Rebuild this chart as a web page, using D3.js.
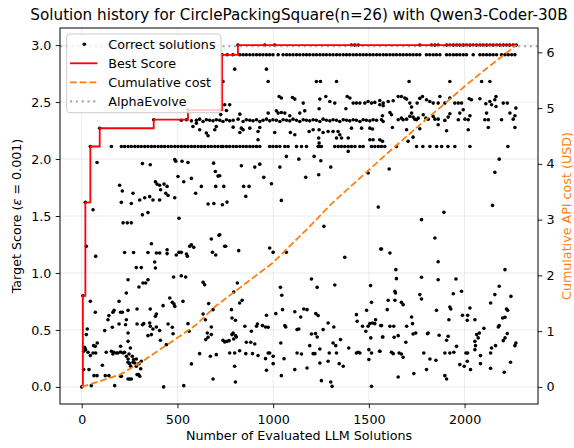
<!DOCTYPE html>
<html>
<head>
<meta charset="utf-8">
<script src="https://cdn.jsdelivr.net/npm/d3@7"></script>
<style>
  body { margin: 0; background: #fff; }
  text { font-family: "DejaVu Sans", sans-serif; }
</style>
</head>
<body>
<svg width="574" height="448"></svg>
<script>
const width = 574;
const height = 448;
const margin = {left: 60, right: 36, top: 28, bottom: 44};

const titleText = "Solution history for CirclePackingSquare(n=26) with Qwen3-Coder-30B";
const xTicks = [0, 500, 1000, 1500, 2000];
const yTicks = [0, 0.5, 1, 1.5, 2, 2.5, 3];
const costTicks = [0, 1, 2, 3, 4, 5, 6];
const legendLabels = ["Correct solutions", "Best Score", "Cumulative cost", "AlphaEvolve"];

const alphaEvolveScore = 2.99;

// best score so far (step after)
const bestRuns = [0, 6, 19, 45, 94, 376, 555, 733, 816, 2275];
const bestScores = [0, 0.8, 1.62, 2.11, 2.27, 2.345, 2.43, 2.915, 3.0, 3.0];

// cumulative API cost
const costRuns = [0, 100, 200, 300, 400, 500, 600, 700, 800, 900, 1000, 1100, 1200, 1300, 1400, 1500, 1600, 1700, 1800, 1900, 2000, 2100, 2200, 2270];
const costUsd = [0, 0.11, 0.22, 0.42, 0.65, 0.88, 1.12, 1.45, 1.71, 1.97, 2.23, 2.57, 2.91, 3.27, 3.58, 3.89, 4.2, 4.5, 4.8, 5.09, 5.39, 5.67, 5.94, 6.13];

// solutions that hit the flat score levels
const runsAt300 = [816, 956, 1008, 1409, 1426, 1444, 1766, 1827, 1845, 1862, 1906, 1923, 1941, 1958, 1975, 1993, 2010, 2028, 2045, 2062, 2080, 2097, 2115, 2132, 2149, 2167, 2184, 2202, 2219, 2236, 2254, 2270];
const runsAt291 = [733, 760, 790, 826, 843, 860, 878, 895, 913, 930, 947, 965, 982, 999, 1026, 1052, 1070, 1087, 1104, 1122, 1139, 1157, 1174, 1191, 1209, 1226, 1244, 1261, 1278, 1296, 1313, 1331, 1348, 1366, 1383, 1400, 1418, 1435, 1453, 1470, 1487, 1505, 1522, 1540, 1557, 1575, 1592, 1610, 1627, 1644, 1662, 1679, 1697, 1714, 1731, 1749, 1766, 1801, 1818, 1836, 1853, 1871, 1906, 1923, 1941, 1958, 1975, 1993, 2010, 2045, 2080, 2097, 2115, 2132, 2149, 2167, 2193, 2211, 2228, 2246, 2263];
const runsAt211 = [45, 155, 207, 224, 242, 259, 277, 294, 311, 329, 346, 364, 381, 399, 416, 433, 451, 468, 486, 503, 521, 538, 555, 573, 590, 608, 625, 642, 660, 677, 695, 712, 730, 738, 756, 773, 791, 808, 826, 843, 860, 878, 895, 913, 930, 982, 999, 1017, 1035, 1061, 1078, 1122, 1148, 1174, 1235, 1244, 1252, 1322, 1340, 1357, 1374, 1392, 1409, 1427, 1453, 1470, 1514, 1531, 1549, 1566, 1583, 1644, 1749, 1782, 1819, 1854, 1880, 1913, 1949, 2028, 2226];

// the 2.3 - 2.7 region
const upperSolutions = [
  [520, 2.34], [547, 2.345], [573, 2.335], [599, 2.34], [616, 2.35], [634, 2.33], [651, 2.345], [668, 2.34], [686, 2.335], [703, 2.345],
  [721, 2.34], [738, 2.33], [756, 2.345], [773, 2.335], [791, 2.34], [817, 2.35], [843, 2.33], [860, 2.345], [878, 2.34], [895, 2.335],
  [913, 2.345], [930, 2.33], [947, 2.34], [965, 2.35], [982, 2.335], [999, 2.345], [1017, 2.34], [1035, 2.33], [1052, 2.345], [1070, 2.34],
  [1087, 2.335], [1104, 2.35], [1122, 2.34], [1139, 2.33], [1157, 2.345], [1174, 2.34], [1191, 2.335], [1209, 2.345], [1226, 2.34], [1244, 2.33],
  [1261, 2.35], [1278, 2.34], [1296, 2.335], [1313, 2.345], [1331, 2.34], [1348, 2.33], [1366, 2.345], [1383, 2.34], [1400, 2.335], [1418, 2.345],
  [1435, 2.34], [1453, 2.33], [1470, 2.345], [1487, 2.34], [1505, 2.335], [1522, 2.345], [1540, 2.34], [1575, 2.33],
  [1571, 2.38], [1566, 2.345], [1610, 2.409], [1618, 2.388], [1653, 2.345], [1670, 2.359], [1679, 2.345], [1697, 2.35], [1714, 2.374], [1723, 2.403],
  [1731, 2.368], [1740, 2.35], [1749, 2.345], [1758, 2.359], [1784, 2.388], [1798, 2.359], [1810, 2.35], [1836, 2.374], [1845, 2.35], [1862, 2.35],
  [1897, 2.339], [1914, 2.368], [1923, 2.397], [1967, 2.345], [1975, 2.403], [1993, 2.432], [2002, 2.35], [2019, 2.345], [2028, 2.38], [2106, 2.345],
  [2115, 2.403], [2124, 2.345], [2164, 2.461], [2193, 2.345], [2237, 2.403], [2254, 2.35], [2263, 2.38], [2268, 2.447],
  [1557, 2.476], [1575, 2.467], [1601, 2.505], [1627, 2.511], [1653, 2.549], [1670, 2.549], [1688, 2.535], [1697, 2.526], [1714, 2.491], [1723, 2.456],
  [1752, 2.491], [1766, 2.532], [1780, 2.549], [1801, 2.52], [1818, 2.505], [1836, 2.491], [1862, 2.491], [1871, 2.549], [1897, 2.491], [1923, 2.535],
  [1949, 2.491], [1967, 2.491], [1984, 2.491], [2024, 2.529], [2036, 2.52], [2080, 2.529], [2111, 2.485], [2132, 2.505], [2141, 2.476], [2164, 2.549],
  [2158, 2.52], [2202, 2.491], [2223, 2.491],
  [747, 2.476], [773, 2.476], [1031, 2.549], [1043, 2.535], [1101, 2.54], [1113, 2.526], [1157, 2.491], [1244, 2.526], [1275, 2.549], [1296, 2.505],
  [1322, 2.491], [1387, 2.549], [1401, 2.535], [1418, 2.491], [1435, 2.491], [1453, 2.491], [1479, 2.491], [1496, 2.505], [1514, 2.491], [1531, 2.497],
  [1557, 2.514], [1575, 2.491], [1240, 2.441], [1380, 2.441], [1165, 2.423], [1139, 2.403], [1017, 2.423], [1043, 2.409], [974, 2.403], [826, 2.394],
  [756, 2.426], [1026, 2.403], [1061, 2.403], [1087, 2.38], [726, 2.39], [555, 2.43], [376, 2.345], [94, 2.27],
  [738, 2.68], [974, 2.681], [1226, 2.681], [1247, 2.681], [1331, 2.681], [1710, 2.681], [1923, 2.681], [2089, 2.681], [2132, 2.681],
  [799, 2.789], [965, 2.789]
];

// the 1.45 - 2.3 region
const middleSolutions = [
  [581, 2.286], [616, 2.257], [651, 2.228], [695, 2.257], [703, 2.286], [660, 2.204], [599, 2.315],
  [791, 2.28], [834, 2.271], [878, 2.271], [930, 2.277], [826, 2.233], [843, 2.257], [921, 2.242], [1008, 2.233], [1090, 2.233], [1113, 2.213],
  [1188, 2.242], [1209, 2.257], [1240, 2.257], [1261, 2.233], [1287, 2.242], [1313, 2.242], [1339, 2.242], [1348, 2.213], [1238, 2.184], [1240, 2.14],
  [1331, 2.184], [1357, 2.184], [1392, 2.184], [1409, 2.271], [1462, 2.271], [1505, 2.271], [1519, 2.263], [1505, 2.169], [1522, 2.169], [921, 2.169],
  [1623, 2.277], [1697, 2.257], [1731, 2.192], [1705, 2.155], [1766, 2.266], [1862, 2.301], [1906, 2.248], [2019, 2.257], [2124, 2.277], [2263, 2.277],
  [1571, 2.155], [1557, 2.169], [1392, 2.067],
  [19, 1.62], [80, 1.97], [317, 1.96], [358, 1.95], [486, 1.995], [491, 1.98], [524, 1.98], [555, 1.97], [689, 1.964], [698, 1.89],
  [712, 1.85], [700, 1.76], [503, 1.847], [533, 1.8], [573, 1.83], [385, 1.8], [393, 1.78], [407, 1.77], [430, 1.78], [446, 1.76],
  [198, 1.77], [212, 1.72], [268, 1.7], [303, 1.64], [329, 1.66], [355, 1.67], [372, 1.64], [407, 1.64], [412, 1.73], [439, 1.7],
  [451, 1.68], [486, 1.66], [207, 1.62], [259, 1.61], [595, 1.7], [625, 1.76], [660, 1.605], [690, 1.61], [346, 1.53], [317, 1.51],
  [508, 1.48], [59, 1.555], [216, 1.44], [238, 1.44], [259, 1.44],
  [834, 1.941], [904, 1.929], [930, 1.955], [1035, 1.929], [1069, 2.023], [1134, 1.999], [1214, 2.023], [1249, 1.985], [1238, 1.862], [1301, 1.929],
  [951, 1.839], [991, 1.783], [721, 1.853], [742, 1.76], [846, 1.76], [874, 1.76], [857, 1.672], [735, 1.599], [759, 1.622], [1043, 1.637],
  [1170, 1.839], [1549, 1.578], [1496, 1.877], [1606, 1.912], [2158, 1.883], [2181, 1.999], [2146, 1.593], [1892, 1.532]
];

// everything below 1.45
const lowerSolutions = [
  [0, 0], [6, 0.8], [24, 1.234], [73, 1.146], [224, 1.18], [271, 1.18], [346, 1.18], [390, 1.175], [407, 1.175], [446, 1.204],
  [446, 1.17], [494, 1.158], [508, 1.181], [520, 1.181], [547, 1.166], [552, 1.146], [564, 1.234], [573, 1.248], [585, 1.225], [364, 1.257],
  [677, 1.298], [717, 1.33], [683, 1.181], [700, 1.158], [747, 1.234], [381, 1.096], [385, 1.044], [285, 1.047], [311, 1.047],
  [242, 0.941], [346, 0.941], [320, 0.912], [334, 0.912], [299, 0.877], [480, 0.965], [520, 0.976], [543, 0.965], [634, 0.918], [642, 0.897],
  [233, 0.824], [45, 0.751], [71, 0.655], [195, 0.751], [169, 0.672], [163, 0.655], [203, 0.655], [212, 0.655], [242, 0.672], [142, 0.626],
  [137, 0.59], [289, 0.684], [358, 0.684], [390, 0.64], [385, 0.62], [425, 0.713], [460, 0.78], [473, 0.742], [486, 0.707], [482, 0.728],
  [529, 0.751], [663, 0.731], [686, 0.678], [634, 0.64], [646, 0.59], [677, 0.526], [677, 0.459], [656, 0.473], [660, 0.436], [648, 0.415],
  [233, 0.59], [229, 0.546], [195, 0.552], [160, 0.523], [120, 0.494], [289, 0.552], [317, 0.546], [324, 0.555], [355, 0.561], [358, 0.532],
  [372, 0.508], [407, 0.494], [390, 0.526], [451, 0.552], [473, 0.523], [346, 0.45], [364, 0.459], [242, 0.473], [242, 0.4], [411, 0.409],
  [442, 0.371], [477, 0.467], [555, 0.555], [561, 0.488],
  [29, 0.508], [24, 0.459], [15, 0.348], [20, 0.327], [33, 0.304], [45, 0.275], [10, 0.313], [62, 0.362], [71, 0.356], [81, 0.385],
  [59, 0.298], [73, 0.298], [128, 0.304], [155, 0.313], [167, 0.304], [181, 0.298], [189, 0.298], [203, 0.307], [216, 0.298], [224, 0.304],
  [163, 0.289], [203, 0.356], [254, 0.342], [233, 0.269], [242, 0.245], [247, 0.289], [264, 0.269], [271, 0.24], [285, 0.245], [277, 0.21],
  [268, 0.216], [250, 0.204], [256, 0.181], [285, 0.181], [299, 0.204], [311, 0.225], [308, 0.16], [289, 0.108], [303, 0.093], [297, 0.108],
  [242, 0.07], [250, 0.07], [259, 0.07], [207, 0.093], [242, 0.216], [10, 0.152], [38, 0.152], [108, 0.19], [64, 0.099], [80, 0.099],
  [123, 0.099], [142, 0.099], [203, 0.093], [50, 0.011], [172, 0.011], [428, 0], [533, 0.011], [573, 0.202], [616, 0.292], [686, 0.07],
  [672, 0.269], [703, 0.283], [738, 0.41],
  [721, 1.336], [752, 1.234], [820, 1.196], [982, 1.219], [1000, 1.181], [1069, 1.181], [1265, 1.409], [1374, 1.137], [1566, 1.21],
  [813, 0.912], [794, 0.833], [825, 0.737], [838, 0.76], [1038, 0.874], [1045, 0.804], [1049, 0.678], [1014, 0.643], [965, 0.628],
  [1200, 0.947], [1230, 0.874], [1322, 0.894], [1113, 0.66], [1144, 0.614], [1160, 0.684], [1177, 0.678], [1223, 0.643], [1235, 0.626],
  [782, 0.678], [785, 0.605], [803, 0.585], [852, 0.532], [886, 0.488], [913, 0.532], [918, 0.552], [944, 0.538], [960, 0.526], [974, 0.523],
  [1061, 0.538], [1066, 0.526], [1125, 0.503], [1134, 0.508], [1261, 0.503], [1287, 0.561], [1317, 0.526], [1352, 0.415],
  [791, 0.473], [785, 0.459], [803, 0.45], [808, 0.438], [794, 0.421], [759, 0.4], [747, 0.395], [770, 0.406],
  [1200, 0.465], [1221, 0.468], [1230, 0.438], [1191, 0.362], [1244, 0.333], [1209, 0.292], [1218, 0.292],
  [860, 0.392], [883, 0.392], [904, 0.377], [825, 0.318], [773, 0.298], [799, 0.298], [857, 0.292], [892, 0.292], [921, 0.275], [960, 0.248],
  [974, 0.298], [982, 0.298], [1000, 0.269], [1057, 0.248], [1040, 0.386], [1125, 0.298], [1148, 0.289],
  [799, 0.181], [803, 0.043], [965, 0.146], [1000, 0.204], [1043, 0.099], [1113, 0.152], [1177, 0.166], [1244, 0.21], [1287, 0.225], [1293, 0.298],
  [1313, 0.386], [1327, 0.362], [1331, 0.298], [1345, 0.204], [1366, 0.181], [1395, 0.342], [1252, 0.055], [1301, 0.043], [1308, 0.005],
  [1435, 0.634], [1439, 0.576], [1444, 0.304], [1453, 0.298], [1435, 0.298], [1467, 0.532], [1488, 0.672], [1509, 0.889], [1514, 0.742], [1496, 0.532],
  [1505, 0.555], [1519, 0.561], [1535, 0.59], [1531, 0.555], [1566, 0.538], [1571, 0.438], [1484, 0.488], [1510, 0.43], [1500, 0.327], [1514, 0.298],
  [1500, 0.24], [1557, 0.313], [1514, 0.005],
  [1775, 1.468], [1845, 1.307], [1862, 1.099], [1562, 1.21], [1610, 1.175],
  [1641, 1.029], [1644, 0.95], [1636, 0.839], [1639, 0.824], [1636, 0.76], [1601, 0.76], [1596, 0.678], [1670, 0.742], [1679, 0.722],
  [1775, 0.962], [1766, 0.81], [1775, 0.772], [1862, 0.941], [1955, 0.947], [1941, 0.818], [1984, 0.839], [1853, 0.672], [1923, 0.701], [1928, 0.684],
  [1918, 0.59], [1989, 0.628], [2016, 0.628], [2028, 0.693], [2014, 0.584], [2054, 0.59],
  [2211, 1.029], [2181, 0.883], [2158, 0.81], [2136, 0.737], [2242, 0.795], [2219, 0.684], [2225, 0.672], [2211, 0.611], [2199, 0.605], [2181, 0.538], [2176, 0.526],
  [1723, 0.614], [1728, 0.555], [1697, 0.532], [1630, 0.532], [1610, 0.532], [1562, 0.538], [1573, 0.438], [1632, 0.436], [1653, 0.45], [1731, 0.465],
  [1745, 0.473], [1810, 0.473], [1806, 0.467], [1867, 0.453], [1914, 0.444], [1906, 0.409], [1958, 0.356], [2063, 0.459], [2077, 0.473], [2071, 0.43],
  [2054, 0.4], [2057, 0.362], [2054, 0.327], [2101, 0.514], [2223, 0.468], [2211, 0.43], [2202, 0.406], [2268, 0.386], [2263, 0.362], [2162, 0.362],
  [2141, 0.342], [2136, 0.298],
  [1557, 0.313], [1618, 0.304], [1627, 0.292], [1658, 0.298], [1670, 0.289], [1679, 0.26], [1693, 0.392], [1787, 0.298], [1819, 0.245], [1850, 0.234],
  [1897, 0.298], [1923, 0.298], [1944, 0.304], [1975, 0.196], [1998, 0.181], [2007, 0.298], [2016, 0.298], [2014, 0.225], [2031, 0.152], [2083, 0.275],
  [2083, 0.204], [2240, 0.216], [2207, 0.128], [2136, 0.163], [1653, 0.087], [1735, 0.117], [1801, 0.152], [1897, 0.099], [1906, 0.07]
];

const solutions = [
  ...runsAt300.map(n => [n, 3.0]),
  ...runsAt291.map(n => [n, 2.915]),
  ...runsAt211.map(n => [n, 2.11]),
  ...upperSolutions, ...middleSolutions, ...lowerSolutions
];

const svg = d3.select("svg");
const plotLeft = margin.left, plotRight = width - margin.right;
const plotTop = margin.top, plotBottom = height - margin.bottom;

const x = d3.scaleLinear().domain([-113.5, 2383.5]).range([plotLeft, plotRight]);
const y = d3.scaleLinear().domain([-0.15, 3.15]).range([plotBottom, plotTop]);
const yCost = d3.scaleLinear().domain([-0.3065, 6.4365]).range([plotBottom, plotTop]);

// grid
const grid = svg.append("g").attr("stroke", "#b0b0b0").attr("stroke-opacity", 0.3).attr("stroke-width", 0.8);
grid.selectAll(".gx").data(xTicks).join("line").attr("class", "gx")
    .attr("x1", d => x(d)).attr("x2", d => x(d)).attr("y1", plotTop).attr("y2", plotBottom);
grid.selectAll(".gy").data(yTicks).join("line").attr("class", "gy")
    .attr("x1", plotLeft).attr("x2", plotRight).attr("y1", d => y(d)).attr("y2", d => y(d));

// scatter
svg.append("g").selectAll("circle").data(solutions).join("circle")
    .attr("cx", d => x(d[0])).attr("cy", d => y(d[1])).attr("r", 1.8).attr("fill", "#000");

// alphaevolve reference
svg.append("line")
    .attr("x1", plotLeft).attr("x2", plotRight).attr("y1", y(alphaEvolveScore)).attr("y2", y(alphaEvolveScore))
    .attr("stroke", "#aaaaaa").attr("stroke-width", 2.2).attr("stroke-dasharray", "2.2,3.6");

// best score
svg.append("path")
    .datum(bestRuns.map((n, i) => [n, bestScores[i]]))
    .attr("d", d3.line().x(d => x(d[0])).y(d => y(d[1])).curve(d3.curveStepAfter))
    .attr("fill", "none").attr("stroke", "#ff0000").attr("stroke-width", 1.8);

// cumulative cost
svg.append("path")
    .datum(costRuns.map((n, i) => [n, costUsd[i]]))
    .attr("d", d3.line().x(d => x(d[0])).y(d => yCost(d[1])))
    .attr("fill", "none").attr("stroke", "#ff7f0e").attr("stroke-width", 1.8)
    .attr("stroke-dasharray", "6.8,2.9");

// axes
const fs = "12.7px";
const xAxis = svg.append("g").attr("transform", `translate(0,${plotBottom})`)
    .call(d3.axisBottom(x).tickValues(xTicks).tickSize(4.3).tickPadding(6.2).tickFormat(d3.format("d")));
const yAxis = svg.append("g").attr("transform", `translate(${plotLeft},0)`)
    .call(d3.axisLeft(y).tickValues(yTicks).tickSize(4.3).tickPadding(4.3).tickFormat(d3.format(".1f")));
const cAxis = svg.append("g").attr("transform", `translate(${plotRight},0)`)
    .call(d3.axisRight(yCost).tickValues(costTicks).tickSize(4.3).tickPadding(4.3).tickFormat(d3.format("d")));
[xAxis, yAxis, cAxis].forEach(g => {
  g.select(".domain").remove();
  g.selectAll("line").attr("stroke", "#000").attr("stroke-width", 0.9);
  g.selectAll("text").attr("font-size", fs).attr("fill", "#000").attr("font-family", "DejaVu Sans");
});

svg.append("rect").attr("x", plotLeft).attr("y", plotTop)
    .attr("width", plotRight - plotLeft).attr("height", plotBottom - plotTop)
    .attr("fill", "none").attr("stroke", "#000").attr("stroke-width", 1);

// labels
svg.append("text").attr("x", (plotLeft + plotRight) / 2).attr("y", 20).attr("text-anchor", "middle")
    .attr("font-size", "15.2px").text(titleText);
svg.append("text").attr("x", (plotLeft + plotRight) / 2).attr("y", 440).attr("text-anchor", "middle")
    .attr("font-size", fs).text("Number of Evaluated LLM Solutions");
const yl = svg.append("text").attr("transform", `translate(21,${(plotTop + plotBottom) / 2}) rotate(-90)`)
    .attr("text-anchor", "middle").attr("font-size", fs);
yl.append("tspan").text("Target Score (");
yl.append("tspan").attr("font-style", "italic").text("ε");
yl.append("tspan").text(" = 0.001)");
svg.append("text").attr("transform", `translate(570.5,${(plotTop + plotBottom) / 2}) rotate(-90)`)
    .attr("text-anchor", "middle").attr("font-size", fs).attr("fill", "#ff7f0e")
    .text("Cumulative API cost (USD)");

// legend
const lg = svg.append("g").attr("transform", "translate(66.7,34)");
lg.append("rect").attr("width", 154.3).attr("height", 78.7).attr("rx", 3)
    .attr("fill", "#fff").attr("fill-opacity", 0.8).attr("stroke", "#cccccc").attr("stroke-width", 1);
const rowY = i => 10.3 + i * 19;
lg.append("circle").attr("cx", 17.6).attr("cy", rowY(0)).attr("r", 1.8).attr("fill", "#000");
lg.append("line").attr("x1", 3.3).attr("x2", 30.6).attr("y1", rowY(1)).attr("y2", rowY(1))
    .attr("stroke", "#ff0000").attr("stroke-width", 1.8);
lg.append("line").attr("x1", 3.3).attr("x2", 30.6).attr("y1", rowY(2)).attr("y2", rowY(2))
    .attr("stroke", "#ff7f0e").attr("stroke-width", 1.8).attr("stroke-dasharray", "6.8,2.9");
lg.append("line").attr("x1", 3.3).attr("x2", 30.6).attr("y1", rowY(3)).attr("y2", rowY(3))
    .attr("stroke", "#aaaaaa").attr("stroke-width", 2.2).attr("stroke-dasharray", "2.2,3.6");
lg.selectAll(".lt").data(legendLabels).join("text").attr("class", "lt")
    .attr("x", 41.6).attr("y", (d, i) => rowY(i)).attr("dy", "0.36em")
    .attr("font-size", fs).text(d => d);
</script>
</body>
</html>
